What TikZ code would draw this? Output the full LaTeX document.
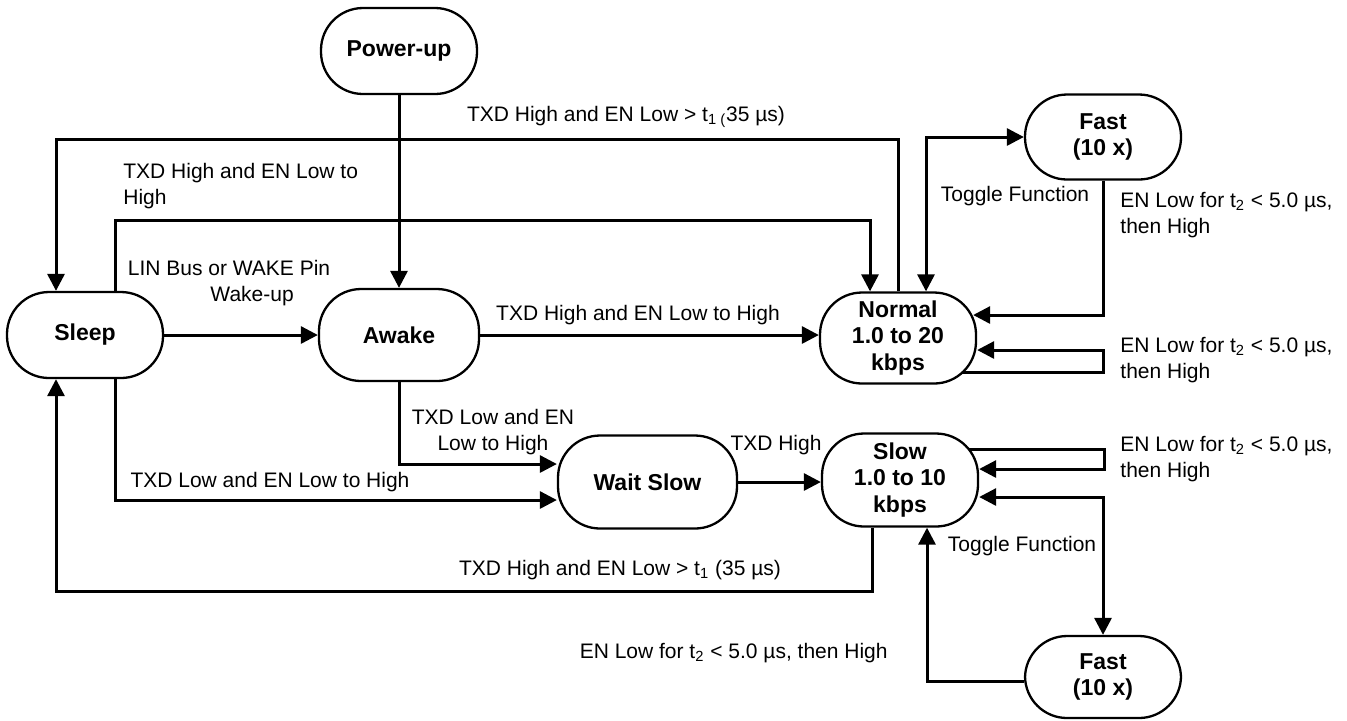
\documentclass[tikz,border=0pt]{standalone}
\usepackage{fontspec}
\setmainfont{Liberation Sans}
\usepackage{tikz}
\usetikzlibrary{arrows.meta,backgrounds}

\tikzset{
	state/.style={draw, line width=1.15pt, fill=white, rounded corners=21pt,
		minimum width=78pt, minimum height=43pt, inner sep=2pt, align=center,
		font=\fontsize{11.5}{13.2}\selectfont\bfseries},
	lbl/.style={inner sep=1pt, align=left, font=\fontsize{10.5}{13}\selectfont},
	flow/.style={line width=1.5pt, -{Triangle[length=8.5pt,width=8.5pt]}},
	twoway/.style={line width=1.5pt, {Triangle[length=8.5pt,width=8.5pt]}-{Triangle[length=8.5pt,width=8.5pt]}}
}

\begin{document}
\begin{tikzpicture}[x=0.5pt,y=0.5pt]
	\useasboundingbox (0,0) rectangle (1347,-720);
	\node[state] (pwr) at (399,-51) {Power-up};
	\node[state] (slp) at (85,-335) {Sleep};
	\node[state,minimum width=80pt,minimum height=46pt] (awk) at (399,-335) {Awake};
	\node[state,minimum height=45.5pt] (nrm) at (898,-338) {Normal\\1.0 to 20\\kbps};
	\node[state,minimum height=42.5pt] (fst1) at (1103,-137) {Fast\\(10 x)};
	\node[state,minimum width=89.5pt,minimum height=46.5pt] (wts) at (647.5,-482) {Wait Slow};
	\node[state,minimum height=46.5pt] (slw) at (900,-480) {Slow\\1.0 to 10\\kbps};
	\node[state,minimum height=41pt] (fst2) at (1103,-677) {Fast\\(10 x)};
	%
	%  BENDS
	%
	\coordinate (c1) at (56,-139);
	\coordinate (c2) at (115,-220);
	\coordinate (c3) at (870,-220);
	\coordinate (c4) at (926,-137);
	\coordinate (c5) at (1103,-315);
	\coordinate (c6) at (1103,-372);
	\coordinate (c7) at (1103,-350);
	\coordinate (c8) at (115,-500);
	\coordinate (c9) at (399,-464);
	\coordinate (c10) at (872,-591);
	\coordinate (c11) at (56,-591);
	\coordinate (c12) at (1104,-449);
	\coordinate (c13) at (1104,-469);
	\coordinate (c14) at (1103,-497);
	\coordinate (c15) at (927,-681);
	%
	\begin{scope}[on background layer]
	\path
	(pwr) edge[flow] (awk)
	(slp) edge[flow] (awk)
	(awk.east) edge[flow] (awk.east -| nrm.west)
	(wts.east) edge[flow] (wts.east -| slw.west);
	\draw[flow] (nrm.north) |- (c1) -- (c1 |- slp.north);
	\draw[flow] (c2 |- slp.north) -- (c2) -- (c3) -- (c3 |- nrm.north);
	\draw[twoway] (c4 |- nrm.north) -- (c4) -- (fst1.west);
	\draw[flow,shorten >=-2pt] (fst1.south) -- (c5) -- (c5 -| nrm.east);
	\draw[flow] (c6 -| nrm.center) -- (c6) -- (c7) -- (c7 -| nrm.east);
	\draw[flow] (c8 |- slp.south) -- (c8) -- (c8 -| wts.west);
	\draw[flow] (awk.south) -- (c9) -- (c9 -| wts.west);
	\draw[flow] (c10 |- slw.south) -- (c10) -- (c11) -- (c11 |- slp.south);
	\draw[flow] (c12 -| slw.center) -- (c12) -- (c13) -- (c13 -| slw.east);
	\draw[twoway] (c14 -| slw.east) -- (c14) -- (fst2.north);
	\draw[flow] (c15 -| fst2.west) -- (c15) -- (c15 |- slw.south);
	\end{scope}
	%
	%  LABELS
	%
	\node[lbl] (l1) at (626,-117) {TXD High and EN Low > t\textsubscript{1 (}35 µs)};
	\node[lbl,anchor=west] (l2) at (121,-186) {TXD High and EN Low to\\High};
	\node[lbl,align=center] (l3) at (229,-283) {LIN Bus or WAKE Pin\\\hspace*{2.2em}Wake-up};
	\node[lbl] (l4) at (638,-315) {TXD High and EN Low to High};
	\node[lbl] (l5) at (1015,-196) {Toggle Function};
	\node[lbl,anchor=west] (l6) at (1118,-215) {EN Low for t\textsubscript{2} < 5.0 µs,\\then High};
	\node[lbl,anchor=west] (l7) at (1118,-360) {EN Low for t\textsubscript{2} < 5.0 µs,\\then High};
	\node[lbl,align=center] (l8) at (493,-432) {TXD Low and EN\\Low to High};
	\node[lbl] (l9) at (270,-482) {TXD Low and EN Low to High};
	\node[lbl] (l10) at (776,-445) {TXD High};
	\node[lbl,anchor=west] (l11) at (1118,-459) {EN Low for t\textsubscript{2} < 5.0 µs,\\then High};
	\node[lbl] (l12) at (1022,-546) {Toggle Function};
	\node[lbl] (l13) at (620,-570) {TXD High and EN Low > t\textsubscript{1} (35 µs)};
	\node[lbl,anchor=east] (l14) at (890,-653) {EN Low for t\textsubscript{2} < 5.0 µs, then High};
\end{tikzpicture}
\end{document}
